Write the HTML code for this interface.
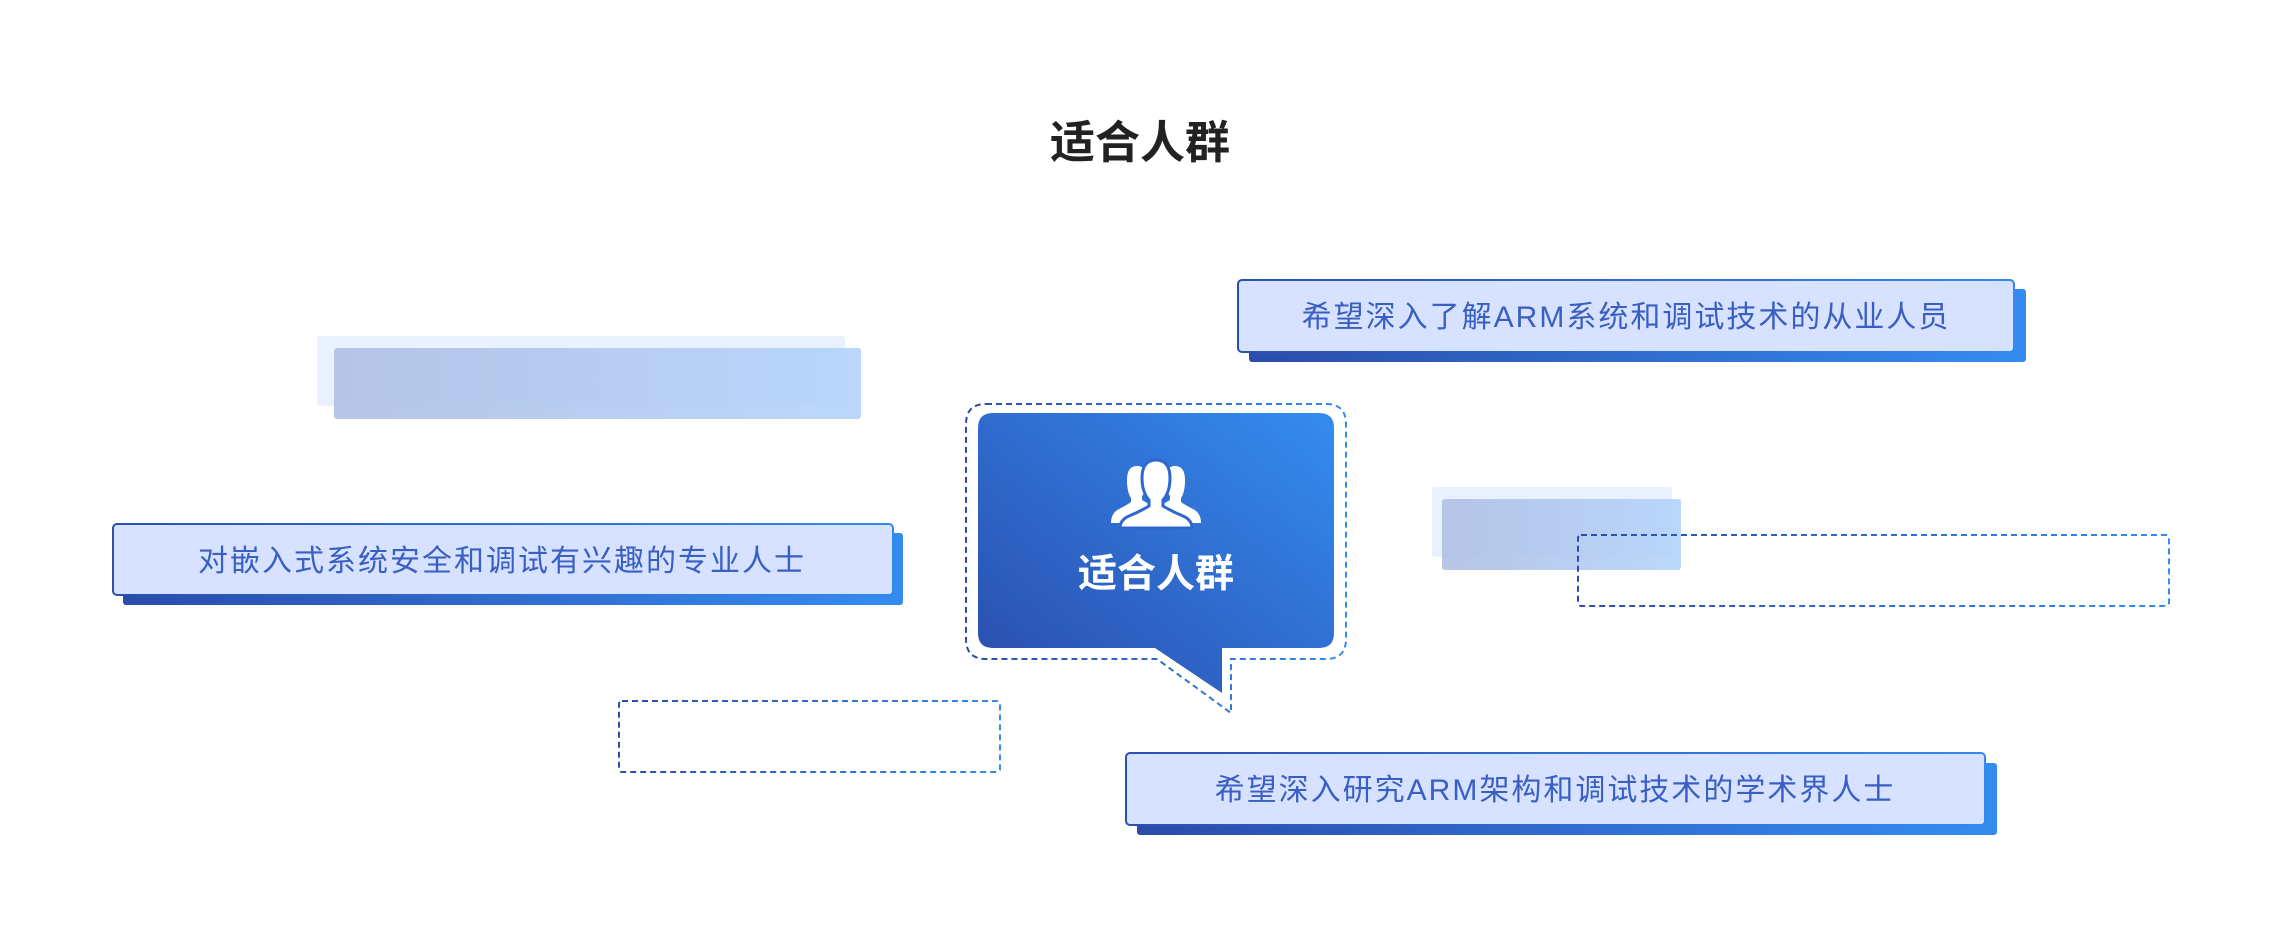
<!DOCTYPE html>
<html><head><meta charset="utf-8"><style>
html,body{margin:0;padding:0;background:#fff;}
body{width:2280px;height:940px;overflow:hidden;position:relative;font-family:"Liberation Sans","Noto Sans CJK SC",sans-serif;}
</style></head><body>
<svg width="2280" height="940" viewBox="0 0 2280 940" xmlns="http://www.w3.org/2000/svg" style="position:absolute;left:0;top:0">
<defs>
<linearGradient id="sh" x1="0" y1="0" x2="1" y2="0"><stop offset="0" stop-color="#2b4cab"/><stop offset="1" stop-color="#348cf0"/></linearGradient>
<linearGradient id="bd" x1="0" y1="0" x2="1" y2="0"><stop offset="0" stop-color="#2c50b2"/><stop offset="1" stop-color="#3488ee"/></linearGradient>
<linearGradient id="fd" x1="0" y1="0" x2="1" y2="0"><stop offset="0" stop-color="#b0bfe4"/><stop offset="1" stop-color="#b2d3fa"/></linearGradient>
<linearGradient id="cb" x1="0" y1="1" x2="1" y2="0"><stop offset="0" stop-color="#2a4cab"/><stop offset="1" stop-color="#348cf0"/></linearGradient>
<linearGradient id="dl" x1="0" y1="0" x2="1" y2="0"><stop offset="0" stop-color="#2b4cab"/><stop offset="1" stop-color="#348cf0"/></linearGradient>
</defs>

<text x="1140" y="158" text-anchor="middle" font-family="Liberation Sans, Noto Sans CJK SC, sans-serif" font-size="45" font-weight="bold" fill="#222">适合人群</text>

<!-- faded rects left -->
<rect x="317" y="336" width="528" height="70" rx="3" fill="#e9f1fe"/>
<rect x="334" y="348" width="527" height="71" rx="3" fill="url(#fd)" opacity="0.9"/>
<!-- faded rects right -->
<rect x="1432" y="487" width="240" height="70" rx="3" fill="#e9f1fe"/>
<rect x="1442" y="499" width="239" height="71" rx="3" fill="url(#fd)" opacity="0.9"/>

<!-- dashed rects -->
<rect x="1578" y="535" width="591" height="71" rx="3" fill="none" stroke="url(#dl)" stroke-width="2" stroke-dasharray="6 4"/>
<rect x="619" y="701" width="381" height="71" rx="3" fill="none" stroke="url(#dl)" stroke-width="2" stroke-dasharray="6 4"/>

<!-- top right box -->
<rect x="1249" y="289" width="777" height="73" rx="3" fill="url(#sh)"/>
<rect x="1238" y="280" width="776" height="72" rx="4" fill="#d6e2ff" stroke="url(#bd)" stroke-width="2"/>
<text x="1626" y="327" text-anchor="middle" font-family="Liberation Sans, Noto Sans CJK SC, sans-serif" font-size="30" letter-spacing="2" fill="#3a5fc2">希望深入了解ARM系统和调试技术的从业人员</text>

<!-- left box -->
<rect x="123" y="533" width="780" height="72" rx="3" fill="url(#sh)"/>
<rect x="113" y="524" width="780" height="71" rx="4" fill="#d6e2ff" stroke="url(#bd)" stroke-width="2"/>
<text x="502" y="571" text-anchor="middle" font-family="Liberation Sans, Noto Sans CJK SC, sans-serif" font-size="30" letter-spacing="2" fill="#3a5fc2">对嵌入式系统安全和调试有兴趣的专业人士</text>

<!-- bottom box -->
<rect x="1137" y="763" width="860" height="72" rx="3" fill="url(#sh)"/>
<rect x="1126" y="753" width="859" height="72" rx="4" fill="#d6e2ff" stroke="url(#bd)" stroke-width="2"/>
<text x="1555" y="800" text-anchor="middle" font-family="Liberation Sans, Noto Sans CJK SC, sans-serif" font-size="30" letter-spacing="2" fill="#3a5fc2">希望深入研究ARM架构和调试技术的学术界人士</text>

<!-- callout dashed outline -->
<path d="M986 404 H1326 Q1346 404 1346 424 V639 Q1346 659 1326 659 H1231 V713 L1157 659 H986 Q966 659 966 639 V424 Q966 404 986 404 Z" fill="none" stroke="url(#dl)" stroke-width="2" stroke-dasharray="6 4"/>
<!-- callout body -->
<path d="M993 413 H1319 Q1334 413 1334 428 V633 Q1334 648 1319 648 H1222 V693 L1155 648 H993 Q978 648 978 633 V428 Q978 413 993 413 Z" fill="url(#cb)"/>

<!-- people icon -->
<g fill="#fff">
  <path d="M1127 480 q0-14 10-14 q10 0 10 14 q0 10-5 16 v4 q6 4 12 6 l-2 3 q-8 4-10 14 h-31 q0-10 8-14 q8-4 12-7 v-4 q-4-6-4-18z"/>
  <path d="M1185 480 q0-14-10-14 q-10 0-10 14 q0 10 5 16 v4 q-6 4-12 6 l2 3 q8 4 10 14 h31 q0-10-8-14 q-8-4-12-7 v-4 q4-6 4-18z"/>
  <path d="M1156 460 q14 0 14 18 q0 14-7 22 v6 q10 6 20 10 q9 4 9 12 h-72 q0-8 9-12 q10-4 20-10 v-6 q-7-8-7-22 q0-18 14-18z" stroke="#3066d0" stroke-width="3"/>
</g>
<text x="1156" y="587" text-anchor="middle" font-family="Liberation Sans, Noto Sans CJK SC, sans-serif" font-size="39" font-weight="bold" fill="#fff">适合人群</text>
</svg>
</body></html>
